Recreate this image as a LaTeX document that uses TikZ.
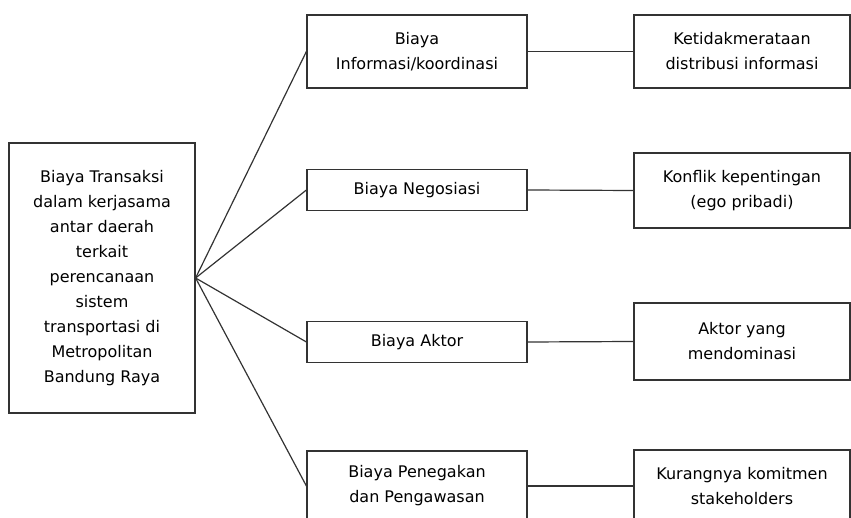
\documentclass[tikz,border=0pt]{standalone}
\usepackage{fontspec}
\setmainfont{DejaVu Sans}

\begin{document}
\begin{tikzpicture}[x=1pt,y=-1pt]
\useasboundingbox (0,0) rectangle (851,518);
\clip (0,0) rectangle (851,518);

\begin{scope}[every node/.style={rectangle,draw=black!80,line width=1.2pt,
            align=center,inner sep=0pt,font=\fontsize{16}{25}\selectfont}]
    \node (T) at (102,278)   [minimum width=186pt,minimum height=270pt]
        {Biaya Transaksi\\dalam kerjasama\\antar daerah\\terkait\\perencanaan\\sistem\\transportasi di\\Metropolitan\\Bandung Raya};
    \node (I) at (417,51.5)  [minimum width=220pt,minimum height=73pt] {Biaya\\Informasi/koordinasi};
    \node (N) at (417,190)   [minimum width=220pt,minimum height=41pt] {Biaya Negosiasi};
    \node (A) at (417,342)   [minimum width=220pt,minimum height=41pt] {Biaya Aktor};
    \node (P) at (417,486)   [minimum width=220pt,minimum height=70pt] {Biaya Penegakan\\dan Pengawasan};
    \node (KI) at (742,51.5) [minimum width=216pt,minimum height=73pt] {Ketidakmerataan\\distribusi informasi};
    \node (KK) at (742,190.5)[minimum width=216pt,minimum height=75pt] {Konflik kepentingan\\(ego pribadi)};
    \node (AM) at (742,341.5)[minimum width=216pt,minimum height=77pt] {Aktor yang\\mendominasi};
    \node (KS) at (742,486)  [minimum width=216pt,minimum height=72pt] {Kurangnya komitmen\\stakeholders};
\end{scope}

\begin{scope}[every edge/.style={draw=black!80,line width=1.2pt}]
    \path (T.east) edge (I.west);
    \path (T.east) edge (N.west);
    \path (T.east) edge (A.west);
    \path (T.east) edge (P.west);
    \path (I.east) edge (KI.west);
    \path (N.east) edge (KK.west);
    \path (A.east) edge (AM.west);
    \path (P.east) edge (KS.west);
\end{scope}
\end{tikzpicture}
\end{document}
